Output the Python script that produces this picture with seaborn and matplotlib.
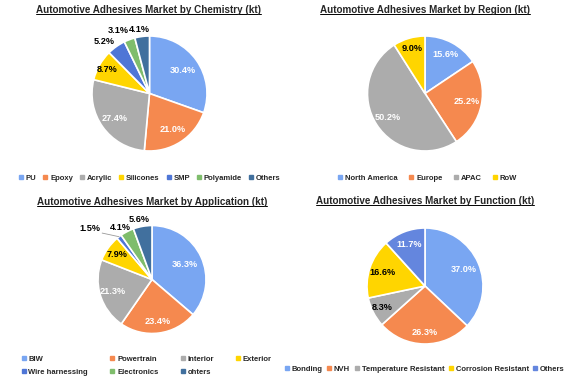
import matplotlib
matplotlib.use("Agg")
import matplotlib.pyplot as plt
from matplotlib.lines import Line2D
import numpy as np
import seaborn as sns

sns.set_style("white")
plt.rcParams['font.family'] = ['Liberation Sans', 'DejaVu Sans']
plt.rcParams['font.weight'] = 'bold'

W, H = 577, 388

chem_labels = ["PU", "Epoxy", "Acrylic", "Silicones", "SMP", "Polyamide", "Others"]
chem_values = [30.4, 21.0, 27.4, 8.7, 5.2, 3.1, 4.1]

region_labels = ["North America", "Europe", "APAC", "RoW"]
region_values = [15.6, 25.2, 50.2, 9.0]

app_labels = ["BIW", "Powertrain", "Interior", "Exterior", "Wire harnessing", "Electronics", "ohters"]
app_values = [36.3, 23.4, 21.3, 7.9, 1.5, 4.1, 5.6]

func_labels = ["Bonding", "NVH", "Temperature Resistant", "Corrosion Resistant", "Others"]
func_values = [37.0, 26.3, 8.3, 16.6, 11.7]

BLUE = "#79a6f2"
ORANGE = "#f5894f"
GRAY = "#acacac"
YELLOW = "#ffd500"
MIDBLUE = "#4f76d6"
GREEN = "#7fbd6c"
DARKBLUE = "#41709e"
FUNCBLUE = "#6486de"

fig = plt.figure(figsize=(W / 100, H / 100), dpi=100)
titles = []


def pie_panel(cx, cy, r, values, colors, dists, txt_colors, shifts=None, leader=None):
    ax = fig.add_axes([(cx - r) / W, 1 - (cy + r) / H, 2 * r / W, 2 * r / H])
    wedges, _ = ax.pie(values, colors=colors, startangle=90, counterclock=False,
                       radius=1, wedgeprops=dict(edgecolor="white", linewidth=1.2))
    ax.set_xlim(-1, 1)
    ax.set_ylim(-1, 1)
    ax.set_aspect("auto")
    if shifts is None:
        shifts = [0] * len(values)
    for i, (w, v) in enumerate(zip(wedges, values)):
        mid = (w.theta1 + w.theta2) / 2
        a = np.deg2rad(mid + shifts[i])
        x, y = dists[i] * np.cos(a), dists[i] * np.sin(a)
        ax.text(x, y, f"{v:.1f}%", ha="center", va="center", fontsize=6.6,
                fontweight="bold", color=txt_colors[i])
        if leader is not None and i == leader:
            am = np.deg2rad(mid)
            ax.plot([np.cos(am), x + 0.22], [np.sin(am), y - 0.08],
                    color="#999999", lw=0.6, clip_on=False)
    return ax


def title(x, y, s):
    t = fig.text(x / W, 1 - y / H, s, ha="center", va="center", fontsize=7.1,
                 fontweight="bold")
    titles.append(t)


def legend(labels, colors, x, y, ncol, **kw):
    handles = [Line2D([], [], marker="s", color=c, linestyle="", markersize=2.4)
               for c in colors]
    opts = dict(loc="center", bbox_to_anchor=(x / W, 1 - y / H), ncol=ncol,
                frameon=False, fontsize=5.5, handlelength=0.4, handletextpad=0.45,
                columnspacing=0.95, borderaxespad=0, borderpad=0, labelspacing=0.5)
    opts.update(kw)
    fig.legend(handles, labels, **opts)


# Chemistry
chem_colors = [BLUE, ORANGE, GRAY, YELLOW, MIDBLUE, GREEN, DARKBLUE]
pie_panel(149.5, 93.5, 57.5, chem_values, chem_colors,
          [0.70, 0.74, 0.74, 0.85, 1.20, 1.22, 1.13],
          ["white", "white", "white", "black", "black", "black", "black"],
          shifts=[0, 0, 0, 0, 6, 6, 2])
title(148, 10, "Automotive Adhesives Market by Chemistry (kt)")
legend(chem_labels, chem_colors, 150, 178, 7)

# Region
region_colors = [BLUE, ORANGE, GRAY, YELLOW]
pie_panel(425, 93.5, 57.5, region_values, region_colors,
          [0.76, 0.74, 0.77, 0.81], ["white", "white", "white", "black"])
title(425, 10, "Automotive Adhesives Market by Region (kt)")
legend(region_labels, region_colors, 428, 178, 4, columnspacing=1.55)

# Application (legend filled row by row, like the reference)
app_colors = [BLUE, ORANGE, GRAY, YELLOW, MIDBLUE, GREEN, DARKBLUE]
pie_panel(152, 279.5, 54, app_values, app_colors,
          [0.67, 0.79, 0.77, 0.80, 1.48, 1.13, 1.13],
          ["white", "white", "white", "black", "black", "black", "black"],
          shifts=[0, 0, 0, 0, 13, 4, 2], leader=4)
title(152, 202, "Automotive Adhesives Market by Application (kt)")
order = [0, 4, 1, 5, 2, 6, 3]
legend([app_labels[i] for i in order], [app_colors[i] for i in order], 0, 0, 4,
       loc="lower left", bbox_to_anchor=(22 / W, 1 - 376 / H, 250 / W, 24 / H),
       mode="expand", labelspacing=0.8)

# Function
func_colors = [BLUE, ORANGE, GRAY, YELLOW, FUNCBLUE]
pie_panel(425, 286, 58, func_values, func_colors,
          [0.72, 0.80, 0.83, 0.77, 0.77], ["white", "white", "black", "black", "white"])
title(425, 201, "Automotive Adhesives Market by Function (kt)")
legend(func_labels, func_colors, 425, 369, 5, columnspacing=0.65)

# underline the titles
fig.canvas.draw()
inv = fig.transFigure.inverted()
for t in titles:
    bb = t.get_window_extent()
    (x0, y0), (x1, _) = inv.transform([(bb.x0, bb.y0), (bb.x1, bb.y1)])
    fig.add_artist(Line2D([x0, x1], [y0 + 0.002, y0 + 0.002], color="black",
                          lw=0.7, transform=fig.transFigure))

fig.savefig("out.png", dpi=100)
